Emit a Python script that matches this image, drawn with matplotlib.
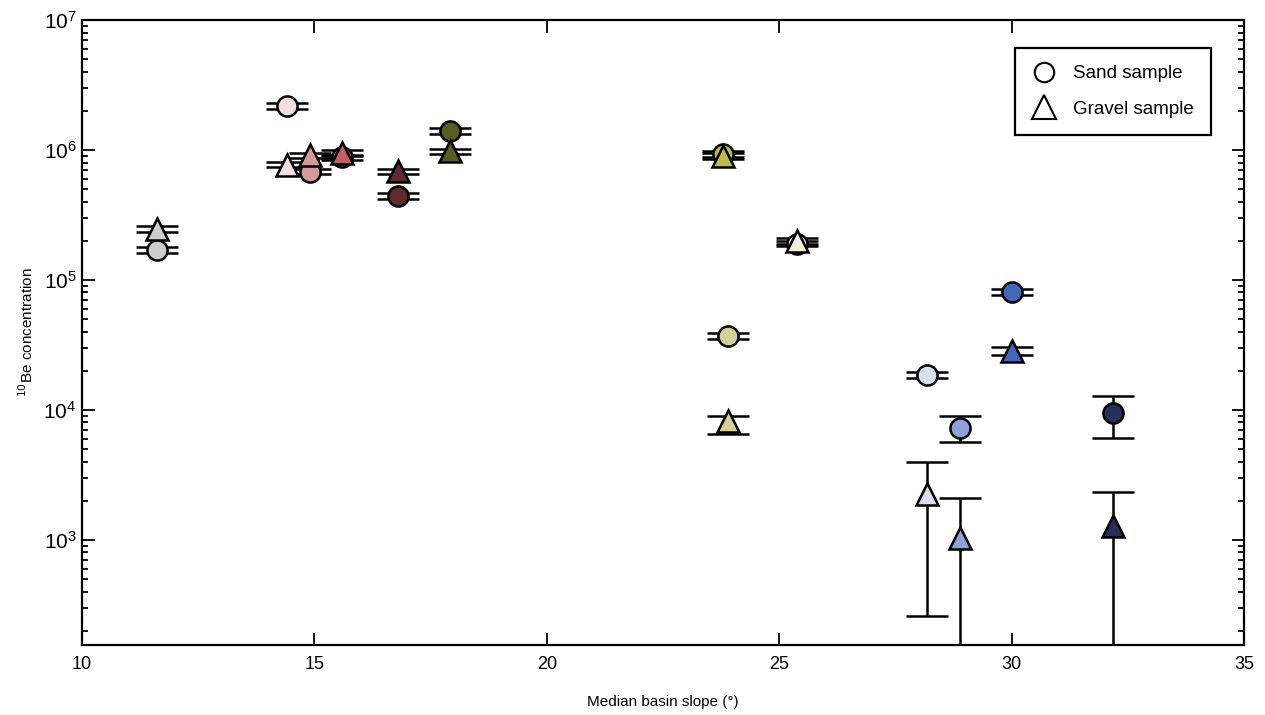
import numpy as np
import matplotlib
matplotlib.use("Agg")
import matplotlib.pyplot as plt
from matplotlib.lines import Line2D

plt.rcParams["font.family"] = ["Liberation Sans", "DejaVu Sans"]

# ---- 数据：每个流域一种颜色，砂样(圆) 和 砾石样(三角) ----
colors = ["#cccccc", "#f2dede", "#d49a9a", "#c06060", "#5e2c2c", "#5a5c22",
          "#bcbb4c", "#f0f0dc", "#d2d298", "#d8e0f0", "#8ea2d8", "#4466bb", "#22305a"]

sand_slope = [11.61, 14.41, 14.90, 15.59, 16.80, 17.92, 23.79, 25.38, 23.90, 28.17, 28.89, 30.00, 32.18]
sand_be = [1.70e5, 2.18e6, 6.8e5, 8.8e5, 4.43e5, 1.40e6, 9.3e5, 1.9e5, 3.71e4, 1.86e4, 7.3e3, 8.1e4, 9.4e3]
sand_err_lo = [0.9e4, 1.0e5, 3.2e4, 4.2e4, 2.1e4, 6.6e4, 4.4e4, 0.9e4, 1.8e3, 0.9e3, 1.65e3, 3.8e3, 3.35e3]
sand_err_hi = [0.9e4, 1.0e5, 3.2e4, 4.2e4, 2.1e4, 6.6e4, 4.4e4, 0.9e4, 1.8e3, 0.9e3, 1.7e3, 3.8e3, 3.4e3]

gravel_slope = [11.61, 14.41, 14.90, 15.59, 16.80, 17.92, 23.79, 25.38, 23.90, 28.17, 28.89, 30.00, 32.18]
gravel_be = [2.47e5, 7.7e5, 9.1e5, 9.5e5, 6.83e5, 9.8e5, 9.0e5, 2.0e5, 8.2e3, 2.26e3, 1.03e3, 2.85e4, 1.27e3]
gravel_err_lo = [1.2e4, 3.6e4, 4.3e4, 4.5e4, 3.2e4, 4.6e4, 4.2e4, 0.95e4, 1.7e3, 2.0e3, 874, 2.0e3, 1114]
gravel_err_hi = [1.2e4, 3.6e4, 4.3e4, 4.5e4, 3.2e4, 4.6e4, 4.2e4, 0.95e4, 0.8e3, 1.74e3, 1.05e3, 2.0e3, 1.08e3]

fig = plt.figure(figsize=(12.65, 7.15), dpi=100)
ax = fig.add_axes([0.0648, 0.0979, 0.9186, 0.8741])

for i in range(len(colors)):
    ax.errorbar(sand_slope[i], sand_be[i], yerr=[[sand_err_lo[i]], [sand_err_hi[i]]],
                fmt="o", ms=14.5, mfc=colors[i], mec="black", mew=1.8,
                ecolor="black", elinewidth=1.8, capsize=15, capthick=1.8, zorder=3)
    ax.errorbar(gravel_slope[i], gravel_be[i], yerr=[[gravel_err_lo[i]], [gravel_err_hi[i]]],
                fmt="^", ms=16.5, mfc=colors[i], mec="black", mew=1.8,
                ecolor="black", elinewidth=1.8, capsize=15, capthick=1.8, zorder=3)

ax.set_yscale("log")
ax.set_xlim(10, 35)
ax.set_ylim(155, 1e7)
ax.set_xticks([10, 15, 20, 25, 30, 35])
ax.tick_params(which="both", direction="in", top=True, right=True)
ax.tick_params(axis="x", labelsize=13, pad=8)
ax.tick_params(axis="y", labelsize=15, pad=4)
ax.tick_params(which="major", length=9, width=1.3)
ax.tick_params(which="minor", length=4.5, width=1.3)
for s in ax.spines.values():
    s.set_linewidth(1.6)

ax.set_xlabel("Median basin slope (°)", fontsize=11, labelpad=16)
ax.set_ylabel("$^{10}$Be concentration", fontsize=11, labelpad=5)

handles = [
    Line2D([], [], ls="none", marker="o", ms=14, mfc="white", mec="black", mew=1.5),
    Line2D([], [], ls="none", marker="^", ms=17, mfc="white", mec="black", mew=1.5),
]
leg = ax.legend(handles, ["Sand sample", "Gravel sample"], loc="upper right",
                bbox_to_anchor=(0.9716, 0.955), fontsize=13.5, fancybox=False,
                edgecolor="black", framealpha=1, borderpad=0.9, labelspacing=1.0,
                handlelength=1.3, handletextpad=0.9, borderaxespad=0)
leg.get_frame().set_linewidth(1.6)

fig.savefig("out.png", dpi=100)
